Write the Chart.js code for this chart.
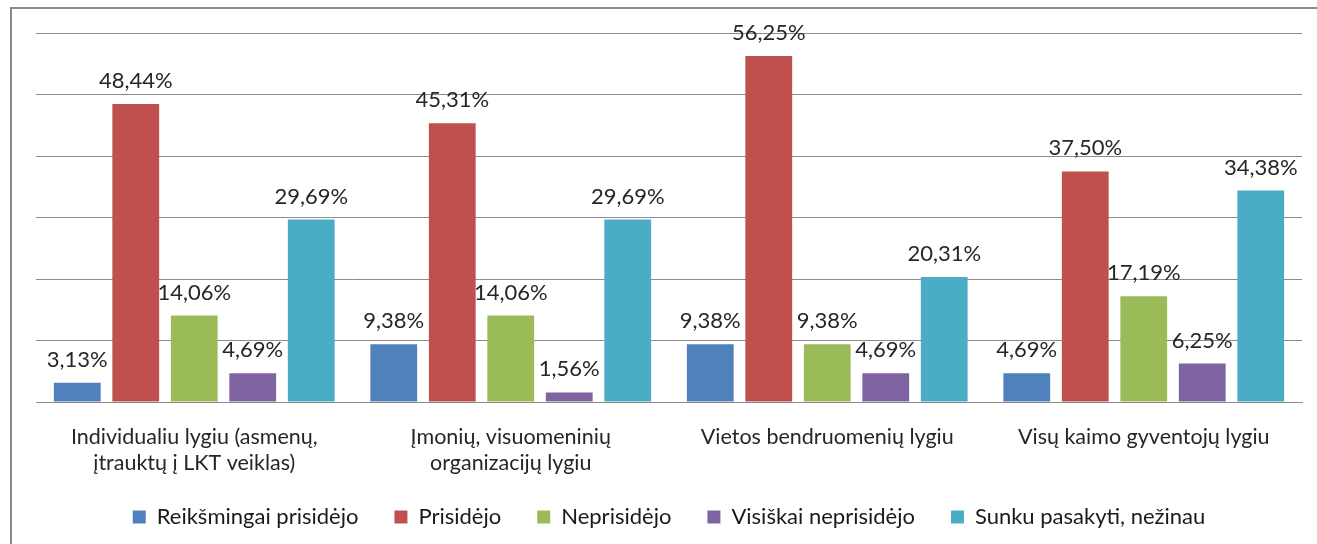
<!DOCTYPE html>
<html>
<head>
<meta charset="utf-8">
<script src="https://cdn.jsdelivr.net/npm/chart.js@4"></script>
<style>
  html, body { margin: 0; padding: 0; background: #fff; }
  #wrap { position: relative; width: 1317px; height: 544px; }
  canvas { display: block; }
</style>
</head>
<body>
<div id="wrap"><canvas id="c" width="1317" height="544"></canvas></div>
<script>
const categories = [
  ["Individualiu lygiu (asmenų,", "įtrauktų į LKT veiklas)"],
  ["Įmonių, visuomeninių", "organizacijų lygiu"],
  "Vietos bendruomenių lygiu",
  "Visų kaimo gyventojų lygiu"
];
const seriesNames = [
  "Reikšmingai prisidėjo",
  "Prisidėjo",
  "Neprisidėjo",
  "Visiškai neprisidėjo",
  "Sunku pasakyti, nežinau"
];
const reiksmingai = [3.13, 9.38, 9.38, 4.69];
const prisidejo = [48.44, 45.31, 56.25, 37.50];
const neprisidejo = [14.06, 14.06, 9.38, 17.19];
const visiskaiNe = [4.69, 1.56, 4.69, 6.25];
const sunku = [29.69, 29.69, 20.31, 34.38];
const yTicks = [0, 10, 20, 30, 40, 50, 60];

const colors = ["#4F81BD", "#C0504D", "#9BBB59", "#8064A2", "#4BACC6"];
const seriesValues = [reiksmingai, prisidejo, neprisidejo, visiskaiNe, sunku];
const FONT = "Lato, 'Liberation Sans', sans-serif";

const framePlugin = {
  id: 'frame',
  beforeDraw(chart) {
    const ctx = chart.ctx;
    ctx.save();
    ctx.strokeStyle = '#8a8a8a';
    ctx.lineWidth = 2;
    ctx.beginPath();
    ctx.moveTo(11, 544);
    ctx.lineTo(11, 8);
    ctx.lineTo(1317, 8);
    ctx.stroke();
    ctx.restore();
  }
};

const labelPlugin = {
  id: 'valueLabels',
  afterDatasetsDraw(chart) {
    const ctx = chart.ctx;
    ctx.save();
    ctx.font = "22px " + FONT;
    ctx.fillStyle = '#262626';
    ctx.textAlign = 'center';
    ctx.textBaseline = 'middle';
    chart.data.datasets.forEach((ds, i) => {
      const meta = chart.getDatasetMeta(i);
      meta.data.forEach((bar, j) => {
        const v = ds.data[j];
        const txt = v.toFixed(2).replace('.', ',') + '%';
        ctx.fillText(txt, bar.x, bar.y - 23);
      });
    });
    ctx.restore();
  }
};

new Chart(document.getElementById('c'), {
  type: 'bar',
  data: {
    labels: categories,
    datasets: seriesNames.map((name, i) => ({
      label: name,
      data: seriesValues[i],
      backgroundColor: colors[i],
      borderWidth: 0,
      categoryPercentage: 0.924,
      barPercentage: 0.80
    }))
  },
  options: {
    responsive: false,
    animation: false,
    devicePixelRatio: 1,
    layout: { padding: { left: 36, right: 15, top: 33, bottom: 6 } },
    plugins: {
      tooltip: { enabled: false },
      legend: {
        position: 'bottom',
        labels: {
          boxWidth: 13,
          boxHeight: 13,
          padding: 36,
          color: '#1a1a1a',
          font: { family: FONT, size: 22 }
        }
      }
    },
    scales: {
      x: {
        grid: { display: false, drawTicks: false },
        border: { display: true, color: '#8c8c8c', width: 1 },
        afterFit(axis) {
          axis.height = 68;
          axis._computeLabelArea = () => null;
        },
        ticks: {
          color: '#262626',
          font: { family: FONT, size: 21.5, lineHeight: 1.22 },
          padding: 22,
          maxRotation: 0,
          autoSkip: false
        }
      },
      y: {
        min: 0,
        max: 60,
        afterBuildTicks(axis) { axis.ticks = yTicks.map(v => ({ value: v })); },
        grid: { color: '#8c8c8c', lineWidth: 1, drawTicks: false },
        border: { display: false },
        ticks: { display: false }
      }
    }
  },
  plugins: [framePlugin, labelPlugin]
});
</script>
</body>
</html>
